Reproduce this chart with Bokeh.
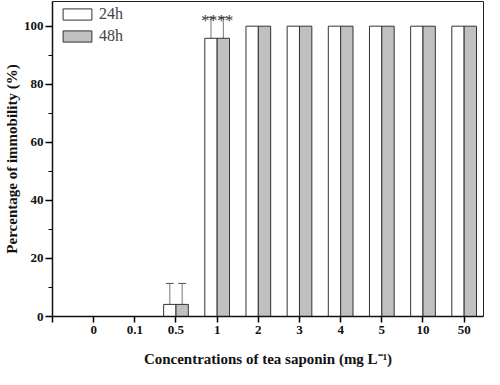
from bokeh.plotting import figure
from bokeh.models import (ColumnDataSource, FixedTicker, Whisker, TeeHead, Legend, LegendItem, Range1d)
from bokeh.core.properties import value
from bokeh.embed import file_html
from bokeh.resources import INLINE

categories = ["0", "0.1", "0.5", "1", "2", "3", "4", "5", "10", "50"]
imm_24h = [0, 0, 4.17, 95.83, 100, 100, 100, 100, 100, 100]
imm_48h = [0, 0, 4.17, 95.83, 100, 100, 100, 100, 100, 100]
err_24h = [0, 0, 7.22, 7.22, 0, 0, 0, 0, 0, 0]
err_48h = [0, 0, 7.22, 7.22, 0, 0, 0, 0, 0, 0]
sig_labels = ["", "", "", "****", "", "", "", "", "", ""]
y_ticks = [0, 20, 40, 60, 80, 100]

SERIF = "'Liberation Serif', serif"
pos = [i + 1 for i in range(len(categories))]
off = 0.15
bw = 0.3

p = figure(width=484, height=369, output_backend="svg", toolbar_location=None,
           x_range=Range1d(0, 10.47), y_range=Range1d(0, 108.5),
           min_border_left=40, min_border_right=1, min_border_top=1, min_border_bottom=52)
p.grid.visible = False
p.outline_line_color = "#222222"
p.outline_line_width = 1
p.background_fill_color = "white"

src24 = ColumnDataSource(dict(x=[v - off for v in pos], top=imm_24h))
src48 = ColumnDataSource(dict(x=[v + off for v in pos], top=imm_48h))
r24 = p.vbar(x="x", top="top", width=bw, source=src24, fill_color="white",
             line_color="#333333", line_width=1)
r48 = p.vbar(x="x", top="top", width=bw, source=src48, fill_color="#c0c0c0",
             line_color="#333333", line_width=1)

for xs, vals, errs in ((src24.data["x"], imm_24h, err_24h), (src48.data["x"], imm_48h, err_48h)):
    idx = [i for i, e in enumerate(errs) if e > 0]
    es = ColumnDataSource(dict(base=[xs[i] for i in idx],
                               upper=[vals[i] + errs[i] for i in idx],
                               lower=[vals[i] - errs[i] for i in idx]))
    w = Whisker(base="base", upper="upper", lower="lower", source=es,
                line_color="#777777", line_width=1,
                upper_head=TeeHead(size=8, line_color="#555555", line_width=1),
                lower_head=None)
    p.add_layout(w)

sidx = [i for i, s in enumerate(sig_labels) if s]
ssrc = ColumnDataSource(dict(x=[pos[i] for i in sidx],
                             y=[imm_24h[i] + err_24h[i] for i in sidx],
                             t=[sig_labels[i] for i in sidx]))
p.text(x="x", y="y", text="t", source=ssrc, text_align="center", text_baseline="middle",
       text_font=value(SERIF), text_font_size="16px", text_color="#333333",
       y_offset=3)

legend = Legend(items=[LegendItem(label="24h", renderers=[r24]),
                       LegendItem(label="48h", renderers=[r48])],
                location=(7, 270), border_line_color=None, background_fill_alpha=0,
                glyph_width=36, glyph_height=14, label_text_font=SERIF,
                label_text_font_size="16px", label_standoff=4, spacing=2,
                padding=0, margin=0, label_height=20)
p.add_layout(legend)

for ax in (p.xaxis, p.yaxis):
    ax.axis_line_width = 1.5
    ax.axis_line_color = "#111111"
    ax.major_tick_line_width = 1.5
    ax.major_tick_in = 0
    ax.major_label_text_font = SERIF
    ax.major_label_text_font_style = "bold"
    ax.major_label_text_font_size = "13px"
    ax.major_label_text_color = "#111111"
    ax.axis_label_text_font = SERIF
    ax.axis_label_text_font_style = "bold"
    ax.axis_label_text_font_size = "15px"
    ax.axis_label_text_color = "#111111"

p.xaxis.ticker = FixedTicker(ticks=[0] + pos)
p.xaxis.major_label_overrides = {0: ""} | {v: c for v, c in zip(pos, categories)}
p.xaxis.minor_tick_line_color = None
p.xaxis.major_tick_out = 6
p.xaxis.major_label_standoff = 3
p.xaxis.axis_label = "Concentrations of tea saponin (mg L\u207b\u00b9)"
p.xaxis.axis_label_standoff = 14

p.yaxis.ticker = FixedTicker(ticks=y_ticks, minor_ticks=[10, 30, 50, 70, 90])
p.yaxis.major_tick_out = 7
p.yaxis.minor_tick_out = 4
p.yaxis.minor_tick_in = 0
p.yaxis.minor_tick_line_width = 1.2
p.yaxis.major_label_standoff = 2
p.yaxis.axis_label = "Percentage of immobility (%)"
p.yaxis.axis_label_standoff = 1

open("out.html", "w").write(file_html(p, INLINE))
